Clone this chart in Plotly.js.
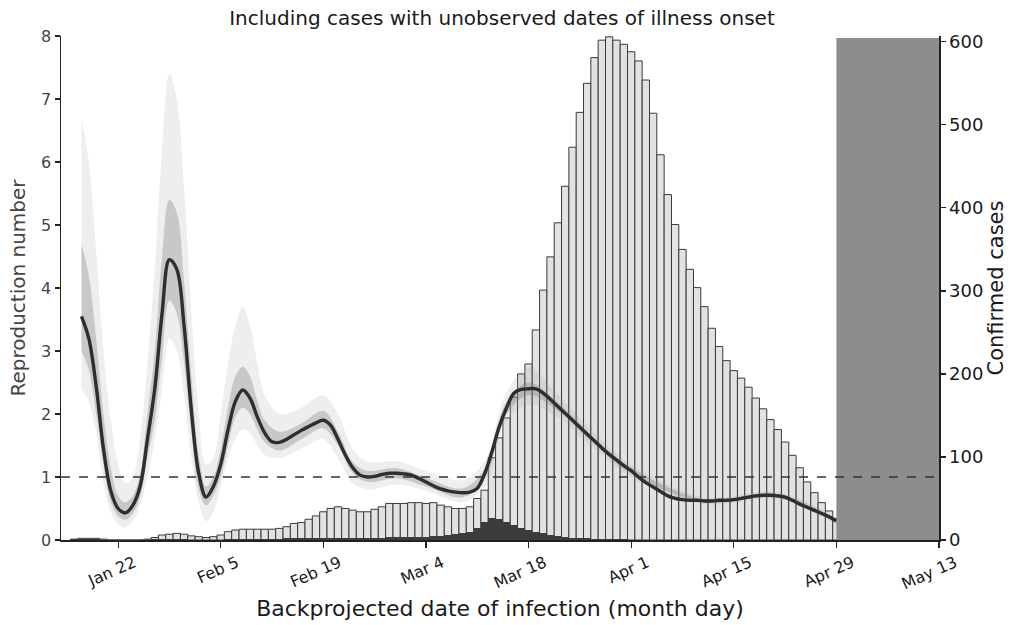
<!DOCTYPE html>
<html>
<head>
<meta charset="utf-8">
<script src="https://cdn.plot.ly/plotly-3.0.1.min.js"></script>
<style>html,body{margin:0;padding:0;background:#fff;}#chart{width:1010px;height:625px;}</style>
</head>
<body>
<div id="chart"></div>
<script>
// ---- data ----
const caseStart = '2020-01-16';
const confirmedCases = [1,2,2,2,1,0,0,0,0,0,1,3,6,7,8,7,5,4,3,4,6,10,12,13,13,13,13,13,14,16,20,21,25,29,34,38,40,38,36,34,34,37,40,44,44,44,45,45,44,45,42,40,38,38,40,50,60,99,123,147,172,200,212,253,301,341,382,426,473,515,550,581,602,606,602,597,588,577,554,514,464,416,380,350,326,304,281,255,233,216,204,195,184,171,158,145,133,118,102,87,70,57,45,35,26];
const darkCases = [1,1,1,1,0,0,0,0,0,0,0,1,1,1,1,1,0,0,0,0,0,1,1,1,1,1,1,1,1,2,2,2,2,3,3,3,3,3,3,3,3,3,3,4,4,4,4,4,4,5,5,6,7,8,10,15,22,26,25,22,18,15,12,10,8,6,5,4,3,2,2,1,1,1,1,1,0,0,0,0,0,0,0,0,0,0,0,0,0,0,0,0,0,0,0,0,0,0,0,0,0,0,0,0,0];
const rStart = '2020-01-17';
const rValues = [3.55,3.2,2.45,1.45,0.78,0.5,0.43,0.55,0.85,1.6,2.4,3.6,4.45,4.3,3.4,2.05,1.06,0.68,0.85,1.2,1.75,2.2,2.38,2.25,1.95,1.7,1.56,1.55,1.6,1.67,1.74,1.8,1.86,1.9,1.82,1.6,1.35,1.15,1.03,1.0,1.01,1.04,1.06,1.06,1.05,1.03,0.98,0.92,0.86,0.81,0.78,0.76,0.75,0.76,0.82,1.05,1.4,1.8,2.1,2.33,2.39,2.4,2.4,2.33,2.23,2.12,2.01,1.9,1.79,1.68,1.57,1.46,1.36,1.27,1.18,1.1,1.0,0.91,0.84,0.77,0.7,0.66,0.64,0.63,0.63,0.62,0.62,0.63,0.63,0.64,0.66,0.68,0.7,0.71,0.71,0.7,0.68,0.63,0.57,0.52,0.47,0.42,0.37,0.3];
const bandDates = ['2020-01-17','2020-01-18','2020-01-19','2020-01-20','2020-01-21','2020-01-22','2020-01-23','2020-01-24','2020-01-25','2020-01-26','2020-01-27','2020-01-28','2020-01-29','2020-01-30','2020-01-31','2020-02-01','2020-02-02','2020-02-03','2020-02-04','2020-02-05','2020-02-06','2020-02-07','2020-02-08','2020-02-09','2020-02-10','2020-02-11','2020-02-13','2020-02-16','2020-02-19','2020-02-21','2020-02-23','2020-02-25','2020-02-29','2020-03-04','2020-03-09','2020-03-12','2020-03-15','2020-03-18','2020-03-22','2020-03-27','2020-04-01','2020-04-11','2020-04-21','2020-04-29'];
const outerUpper = [6.7,6.0,4.6,3.0,1.9,1.2,0.9,1.0,1.6,2.8,4.3,6.2,7.4,7.0,5.6,3.6,2.0,1.2,1.3,2.0,2.8,3.4,3.7,3.4,2.8,2.3,2.0,2.1,2.3,2.0,1.45,1.25,1.25,1.1,0.95,1.25,2.35,2.75,2.3,1.7,1.2,0.68,0.76,0.36];
const outerLower = [2.4,2.2,1.7,0.9,0.45,0.25,0.2,0.3,0.55,1.0,1.6,2.4,3.2,3.0,2.3,1.3,0.6,0.3,0.45,0.85,1.3,1.6,1.75,1.7,1.5,1.35,1.3,1.45,1.6,1.3,0.9,0.8,0.88,0.78,0.6,0.85,1.9,2.15,1.95,1.45,1.0,0.57,0.65,0.25];
const innerUpper = [4.7,4.2,3.2,2.0,1.15,0.7,0.6,0.7,1.05,2.0,3.0,4.5,5.4,5.2,4.1,2.6,1.35,0.85,1.0,1.45,2.1,2.6,2.75,2.6,2.2,1.9,1.72,1.85,2.05,1.72,1.24,1.1,1.14,0.99,0.82,1.13,2.2,2.5,2.18,1.62,1.15,0.64,0.73,0.33];
const innerLower = [3.0,2.7,2.0,1.2,0.6,0.38,0.32,0.42,0.68,1.3,1.9,2.9,3.8,3.6,2.8,1.7,0.8,0.55,0.7,1.0,1.5,1.95,2.1,2.0,1.75,1.55,1.42,1.6,1.77,1.5,1.06,0.92,0.98,0.85,0.68,0.97,2.0,2.3,2.05,1.52,1.05,0.6,0.67,0.27];
const tickDates = ['2020-01-22','2020-02-05','2020-02-19','2020-03-04','2020-03-18','2020-04-01','2020-04-15','2020-04-29','2020-05-13'];
const tickLabels = ['Jan 22','Feb 5','Feb 19','Mar 4','Mar 18','Apr 1','Apr 15','Apr 29','May 13'];
const rTicks = [0,1,2,3,4,5,6,7,8];
const caseTicks = [0,100,200,300,400,500,600];

// ---- helpers ----
function days(start, n) {
  const t0 = Date.parse(start + 'T00:00:00Z');
  const out = [];
  for (let i = 0; i < n; i++) out.push(new Date(t0 + i * 86400000).toISOString().slice(0, 10));
  return out;
}
const caseDates = days(caseStart, confirmedCases.length);
const rDates = days(rStart, rValues.length);
const FONT = 'DejaVu Sans, Verdana, sans-serif';

const traces = [
  {type: 'bar', x: caseDates, y: confirmedCases, width: 86400000, yaxis: 'y',
   marker: {color: '#e2e2e2', line: {color: '#3a3a3a', width: 1}}, hoverinfo: 'skip'},
  {type: 'bar', x: caseDates, y: darkCases, width: 86400000, yaxis: 'y',
   marker: {color: '#3c3c3c', line: {color: '#3c3c3c', width: 0}}, hoverinfo: 'skip'},
  {type: 'scatter', mode: 'lines', x: bandDates, y: outerLower, yaxis: 'y2',
   line: {width: 0, shape: 'spline'}, hoverinfo: 'skip'},
  {type: 'scatter', mode: 'lines', x: bandDates, y: outerUpper, yaxis: 'y2', fill: 'tonexty',
   fillcolor: 'rgba(150,150,150,0.16)', line: {width: 0, shape: 'spline'}, hoverinfo: 'skip'},
  {type: 'scatter', mode: 'lines', x: bandDates, y: innerLower, yaxis: 'y2',
   line: {width: 0, shape: 'spline'}, hoverinfo: 'skip'},
  {type: 'scatter', mode: 'lines', x: bandDates, y: innerUpper, yaxis: 'y2', fill: 'tonexty',
   fillcolor: 'rgba(120,120,120,0.32)', line: {width: 0, shape: 'spline'}, hoverinfo: 'skip'},
  {type: 'scatter', mode: 'lines', x: rDates, y: rValues, yaxis: 'y2',
   line: {color: '#2e2e2e', width: 3.4, shape: 'spline'}, hoverinfo: 'skip'}
];

const layout = {
  width: 1010, height: 625,
  margin: {l: 61, r: 71, t: 36, b: 85},
  paper_bgcolor: '#ffffff', plot_bgcolor: '#ffffff',
  showlegend: false, barmode: 'overlay', bargap: 0,
  font: {family: FONT, color: '#222'},
  title: {text: 'Including cases with unobserved dates of illness onset',
          x: 0.497, xanchor: 'center', y: 0.972, yanchor: 'middle',
          font: {family: FONT, size: 20, color: '#1a1a1a'}},
  xaxis: {type: 'date', range: ['2020-01-14 05:00', '2020-05-13'],
          tickvals: tickDates, ticktext: tickLabels, tickangle: -24, ticklabelshift: 16,
          tickfont: {family: FONT, size: 16, color: '#1a1a1a'},
          ticks: 'outside', ticklen: 6, tickwidth: 1.2, tickcolor: '#222',
          showline: true, linecolor: '#222', linewidth: 1.5, showgrid: false, zeroline: false,
          title: {text: 'Backprojected date of infection (month day)', standoff: 8,
                  font: {family: FONT, size: 22, color: '#1a1a1a'}}},
  yaxis: {range: [0, 607], side: 'right', tickvals: caseTicks,
          tickfont: {family: FONT, size: 18, color: '#1a1a1a'},
          ticks: 'outside', ticklen: 5, tickwidth: 1.2, tickcolor: '#222',
          showline: true, linecolor: '#222', linewidth: 1.5, showgrid: false, zeroline: false,
          title: {text: 'Confirmed cases', standoff: 6, font: {family: FONT, size: 21, color: '#1a1a1a'}}},
  yaxis2: {range: [0, 8], side: 'left', overlaying: 'y', tickvals: rTicks,
           tickfont: {family: FONT, size: 16, color: '#444'},
           ticks: 'outside', ticklen: 5, tickwidth: 1.2, tickcolor: '#222',
           showline: true, linecolor: '#222', linewidth: 1.5, showgrid: false, zeroline: false,
           title: {text: 'Reproduction number', standoff: 10, font: {family: FONT, size: 20, color: '#444'}}},
  shapes: [
    {type: 'rect', xref: 'x', yref: 'paper', x0: '2020-04-29', x1: '2020-05-13', y0: 0, y1: 0.996,
     fillcolor: '#8d8d8d', line: {width: 0}, layer: 'above'},
    {type: 'line', xref: 'paper', yref: 'y2', x0: 0, x1: 1, y0: 1, y1: 1,
     line: {color: '#333', width: 1.3, dash: 'dash'}, layer: 'above'}
  ]
};

Plotly.newPlot('chart', traces, layout, {displayModeBar: false, staticPlot: true});
</script>
</body>
</html>
